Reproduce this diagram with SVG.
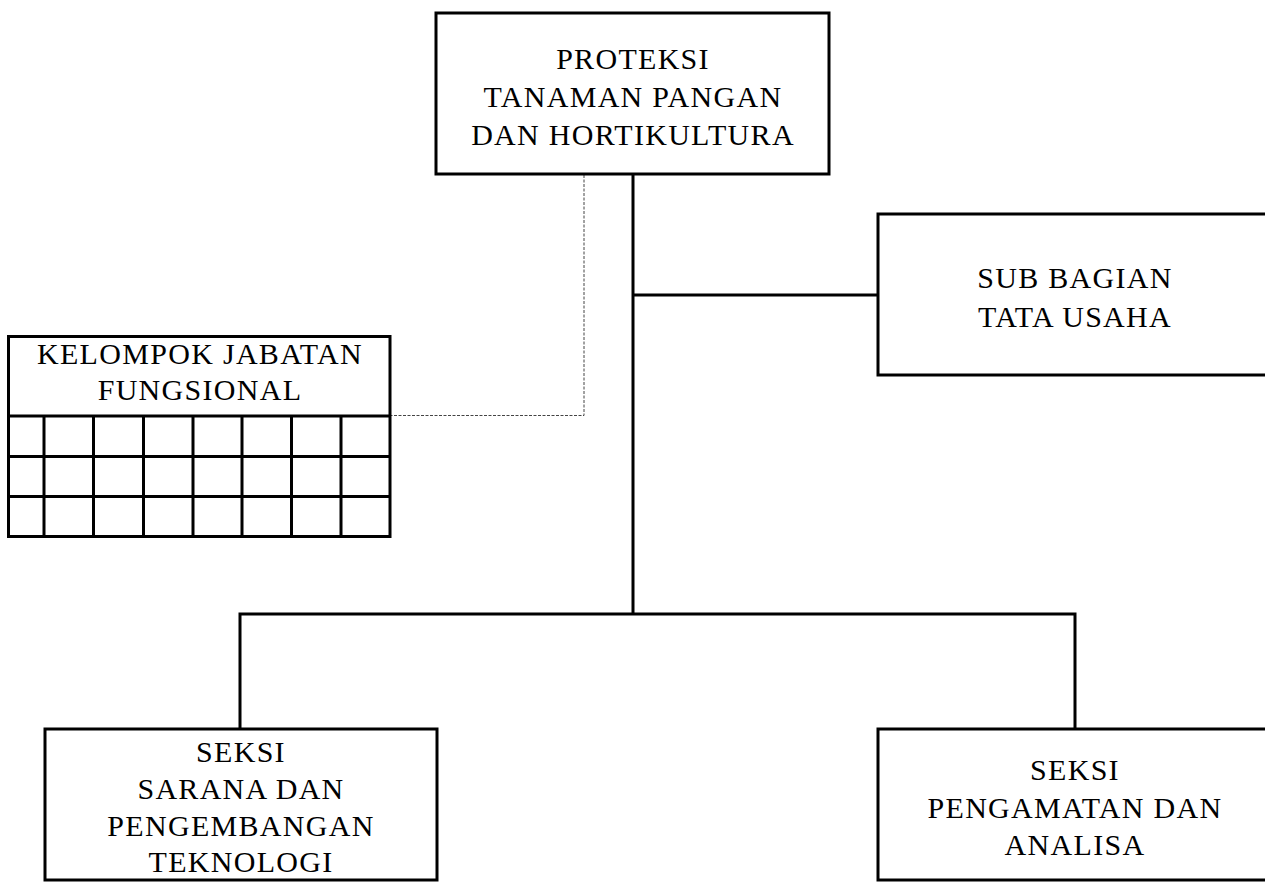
<svg xmlns="http://www.w3.org/2000/svg" width="1265" height="882" viewBox="0 0 1265 882">
<style>
.box{fill:#fff;stroke:#000;stroke-width:3}
.ln{fill:none;stroke:#000;stroke-width:3}
.dot{fill:none;stroke:#444;stroke-width:1;stroke-dasharray:3,1.5}
.grid{fill:none;stroke:#000;stroke-width:3}
text{font-family:"Liberation Serif","Times New Roman",serif;font-size:30px;letter-spacing:1.3px;text-anchor:middle;fill:#000}
</style>
<rect width="1265" height="882" fill="#fff"/>
<g id="connectors">
<path class="dot" d="M584,175 V415.5 H391"/>
<path class="ln" d="M633,174 V614"/>
<path class="ln" d="M633,295 H878"/>
<path class="ln" d="M240,729 V614 H1075 V729"/>
</g>
<g id="node-proteksi">
<rect class="box" x="436" y="13" width="393" height="161"/>
<text x="633" y="69">PROTEKSI</text>
<text x="633" y="107">TANAMAN PANGAN</text>
<text x="633" y="145">DAN HORTIKULTURA</text>
</g>
<g id="node-subbagian">
<rect class="box" x="878" y="214" width="400" height="161"/>
<text x="1075" y="288">SUB BAGIAN</text>
<text x="1075" y="327">TATA USAHA</text>
</g>
<g id="node-kelompok">
<rect class="box" x="8.5" y="336.5" width="381.5" height="200"/>
<text x="200" y="364">KELOMPOK JABATAN</text>
<text x="200" y="400">FUNGSIONAL</text>
<path class="grid" d="M8.5,416 H390 M8.5,456.5 H390 M8.5,496.5 H390 M44,416 V536.5 M93.5,416 V536.5 M143.5,416 V536.5 M193,416 V536.5 M242,416 V536.5 M291.5,416 V536.5 M341,416 V536.5"/>
</g>
<g id="node-sarana">
<rect class="box" x="45" y="729" width="392" height="151"/>
<text x="241" y="762">SEKSI</text>
<text x="241" y="799">SARANA DAN</text>
<text x="241" y="836">PENGEMBANGAN</text>
<text x="241" y="872">TEKNOLOGI</text>
</g>
<g id="node-pengamatan">
<rect class="box" x="878" y="729" width="400" height="151"/>
<text x="1075" y="780">SEKSI</text>
<text x="1075" y="818">PENGAMATAN DAN</text>
<text x="1075" y="855">ANALISA</text>
</g>
</svg>
